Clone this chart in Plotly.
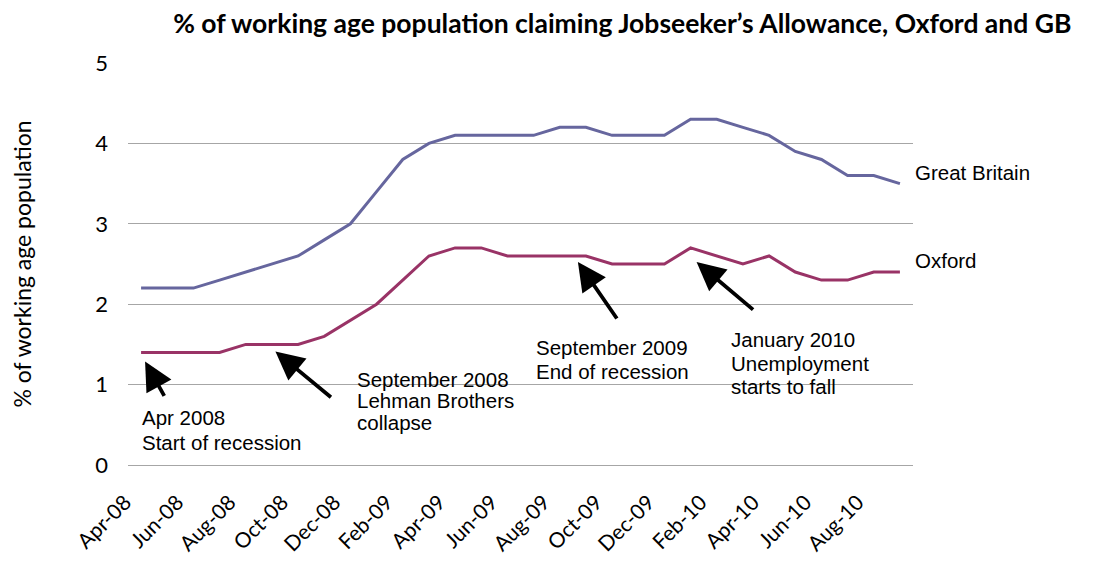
import plotly.graph_objects as go

months = ["Apr-08","May-08","Jun-08","Jul-08","Aug-08","Sep-08","Oct-08","Nov-08","Dec-08",
          "Jan-09","Feb-09","Mar-09","Apr-09","May-09","Jun-09","Jul-09","Aug-09","Sep-09",
          "Oct-09","Nov-09","Dec-09","Jan-10","Feb-10","Mar-10","Apr-10","May-10","Jun-10",
          "Jul-10","Aug-10","Sep-10"]
great_britain = [2.2,2.2,2.2,2.3,2.4,2.5,2.6,2.8,3.0,3.4,3.8,4.0,4.1,4.1,4.1,4.1,4.2,4.2,
                 4.1,4.1,4.1,4.3,4.3,4.2,4.1,3.9,3.8,3.6,3.6,3.5]
oxford = [1.4,1.4,1.4,1.4,1.5,1.5,1.5,1.6,1.8,2.0,2.3,2.6,2.7,2.7,2.6,2.6,2.6,2.6,
          2.5,2.5,2.5,2.7,2.6,2.5,2.6,2.4,2.3,2.3,2.4,2.4]
tick_labels = months[::2]
y_ticks = [0, 1, 2, 3, 4, 5]

events = [
    ("Apr-08", ["Apr 2008", "Start of recession"]),
    ("Sep-08", ["September 2008", "Lehman Brothers", "collapse"]),
    ("Sep-09", ["September 2009", "End of recession"]),
    ("Jan-10", ["January 2010", "Unemployment", "starts to fall"]),
]

GB_COLOR = "#66669E"
OX_COLOR = "#993366"
CAL = "Lato, Carlito, Calibri, sans-serif"
ARIAL = "Liberation Sans, Arial, sans-serif"
TXT = 20.5

fig = go.Figure()
fig.add_trace(go.Scatter(x=months, y=great_britain, mode="lines", name="Great Britain",
                         line=dict(color=GB_COLOR, width=3)))
fig.add_trace(go.Scatter(x=months, y=oxford, mode="lines", name="Oxford",
                         line=dict(color=OX_COLOR, width=3)))

# series labels at the end of each line
fig.add_annotation(x=len(months) - 1, y=great_britain[-1], text="Great Britain",
                   showarrow=False, xanchor="left", yanchor="middle", xshift=13, yshift=11,
                   font=dict(family=ARIAL, size=TXT, color="#000"))
fig.add_annotation(x=len(months) - 1, y=oxford[-1], text="Oxford",
                   showarrow=False, xanchor="left", yanchor="middle", xshift=13, yshift=12,
                   font=dict(family=ARIAL, size=TXT, color="#000"))

# arrow tip offset from the data point (px, screen: +down), tail offset from tip
arrow_geom = [(4, 9, 20, 36), (3.5, 7, 57, 47), (-8, 6, 40, 58), (6, 14, 58, 49)]
# text: left edge offset and line centre offsets from the data point (px, +down)
text_geom = [(-1, [65, 90]), (83.5, [35, 56.5, 78.3]), (-52, [92, 115.4]),
             (38, [92, 115.5, 139])]
for (m, lines), (dx, dy, ax, ay), (tx, tys) in zip(events, arrow_geom, text_geom):
    i = months.index(m)
    fig.add_annotation(x=i, y=oxford[i], text="", showarrow=True, arrowhead=2,
                       arrowsize=1.5, arrowwidth=3.8, arrowcolor="#000",
                       ax=ax, ay=ay, xshift=dx, yshift=-dy)
    for line, ty in zip(lines, tys):
        fig.add_annotation(x=i, y=oxford[i], text=line, showarrow=False, align="left",
                           xanchor="left", yanchor="middle", xshift=tx, yshift=-ty,
                           font=dict(family=ARIAL, size=TXT, color="#000"))

fig.update_layout(
    width=1095, height=562,
    margin=dict(l=120, r=190, t=55, b=105),
    paper_bgcolor="white", plot_bgcolor="white",
    showlegend=False,
    title=dict(text="<b>% of working age population claiming Jobseeker’s Allowance, Oxford and GB</b>",
               x=0.561, xanchor="center", y=0.972, yanchor="middle",
               font=dict(family=CAL, size=26.5, color="#000")),
    xaxis=dict(type="category", categoryorder="array", categoryarray=months,
               range=[-0.5, len(months) - 0.5], automargin=False,
               tickmode="array", tickvals=tick_labels, ticktext=tick_labels,
               tickangle=-45, showgrid=False, showline=False, zeroline=False,
               ticks="", ticklabelshift=-16, ticklabelstandoff=20,
               tickfont=dict(family=CAL, size=21, color="#000")),
    yaxis=dict(range=[0, 5], tickvals=y_ticks, showgrid=True, gridcolor="#A6A6A6",
               gridwidth=1, zeroline=True, zerolinecolor="#A6A6A6", zerolinewidth=1,
               showline=False, ticks="", ticklabelstandoff=19, automargin=False,
               tickfont=dict(family=CAL, size=22, color="#000"),
               title=dict(text="% of working age population", standoff=60,
                          font=dict(family=CAL, size=23, color="#000"))),
)

fig.write_html("out.html")
